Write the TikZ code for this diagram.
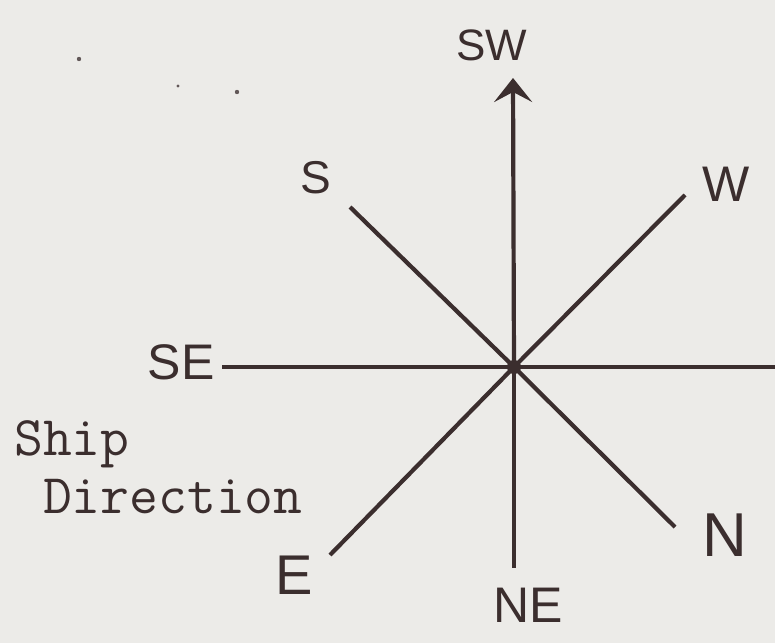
\documentclass[tikz,border=0pt]{standalone}
\usepackage{fontspec}
\setmainfont{Liberation Sans}
\usetikzlibrary{arrows.meta}
\definecolor{bgc}{HTML}{ECEBE8}
\definecolor{ink}{HTML}{3B2E2E}
\tikzset{
  ray/.style={draw=ink, line width=4.2pt},
  hand/.style={text=ink, inner sep=0pt, font=\fontsize{#1}{#1}\selectfont},
  typed/.style={text=ink, inner sep=0pt, font=\fontsize{56}{58}\selectfont\ttfamily, align=left},
  speck/.style={fill=ink!80}
}
\begin{document}
\begin{tikzpicture}[x=1pt,y=-1pt]
\fill[bgc] (0,0) rectangle (775,643);
\useasboundingbox (0,0) rectangle (775,643);
% specks
\fill[speck] (79,59) circle (2.2pt);
\fill[speck] (178,86) circle (1.6pt);
\fill[speck] (237,92) circle (2.2pt);
% centre and ray ends
\coordinate (c) at (514,367);
\coordinate (eSW) at (513,78);
\coordinate (eNE) at (514,568);
\coordinate (eSE) at (222,367);
\coordinate (eR) at (775,367);
\coordinate (eS) at (350,207);
\coordinate (eW) at (685,195);
\coordinate (eE) at (330,555);
\coordinate (eN) at (675,527);
% rays
\draw[ray, -{Stealth[length=24pt,width=38pt,inset=10pt]}] (c) -- (eSW);
\draw[ray] (c) -- (eNE);
\draw[ray] (c) -- (eSE);
\draw[ray] (c) -- (eR);
\draw[ray] (c) -- (eS);
\draw[ray] (c) -- (eW);
\draw[ray] (c) -- (eE);
\draw[ray] (c) -- (eN);
\fill[ink] (c) circle (7pt);
% labels
\node[hand=44] (lSW) at (492,45) {SW};
\node[hand=46] (lS) at (316,178) {S};
\node[hand=50] (lW) at (726,184) {W};
\node[hand=50] (lSE) at (181,362) {SE};
\node[hand=56] (lE) at (294,575) {E};
\node[hand=50] (lNE) at (528,605) {NE};
\node[hand=62] (lN) at (725,535) {N};
\node[typed, anchor=north west] (ship) at (14,420) {Ship\\\ Direction};
\end{tikzpicture}
\end{document}
